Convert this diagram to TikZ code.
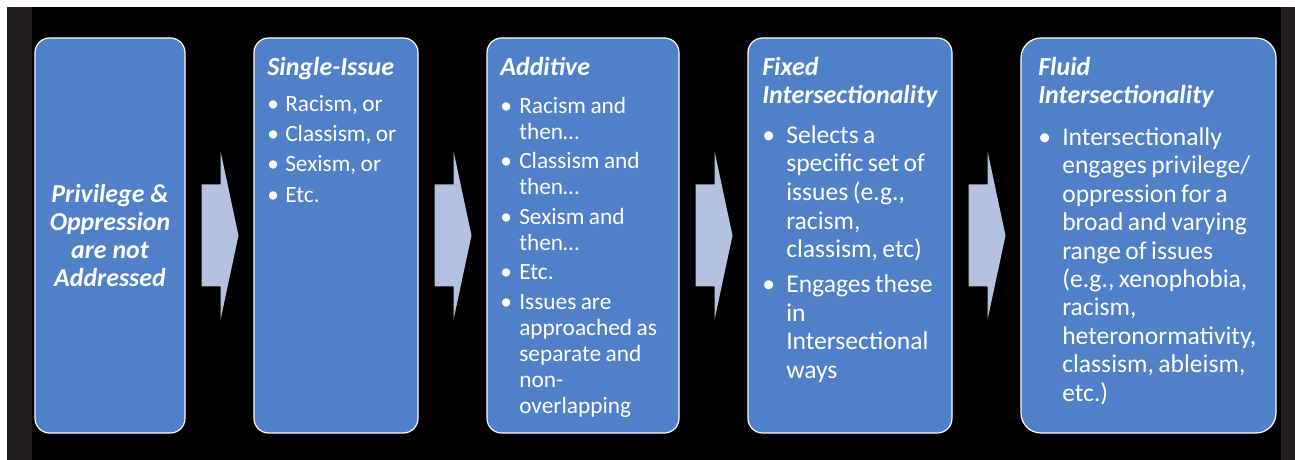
\documentclass[tikz,border=0pt]{standalone}
\usepackage{fontspec}
\setmainfont{Carlito}
\usepackage{xcolor}
\usetikzlibrary{positioning}

\definecolor{stageblue}{HTML}{4F80C8}
\definecolor{flowgrey}{HTML}{B4C1E1}
\definecolor{framegrey}{HTML}{231F20}

% bold italic title line of a stage
\newcommand{\stagehead}[1]{\strut\textbf{\textit{#1}}\par}
% bullet point with hanging indent, #1 = indent
\newcommand{\stageitem}[2][18pt]{\par\hangindent=#1\hangafter=1\noindent
	\makebox[#1][l]{\textbullet}#2\par}

\begin{document}
\begin{tikzpicture}[x=0.75pt, y=0.75pt,
			stage/.style={rectangle, draw=white, line width=0.9pt, fill=stageblue,
					rounded corners=11pt, minimum height=296.25pt, inner sep=0pt, outer sep=0pt},
			stagetext/.style={text=white, text width=#1, align=left, inner sep=0pt},
			flow/.style={fill=flowgrey}
		]
		\useasboundingbox (0,0) rectangle (1295,460);

		% backdrop
		\fill[white] (0,0) rectangle (1295,460);
		\fill[framegrey] (7,0) rectangle (1295,453);
		\fill[black] (32,0) rectangle (1281,453);

		% stages
		\node[stage, minimum width=112.5pt, text=white, align=center,
			font=\fontsize{19.4}{21}\selectfont\bfseries\itshape] (base) at (110,224.5)
			{Privilege \&\\Oppression\\are not\\Addressed};
		\node[stage, minimum width=123pt, right=51.75pt of base] (single) {};
		\node[stage, minimum width=144pt, right=51.75pt of single] (additive) {};
		\node[stage, minimum width=153pt, right=51.75pt of additive] (fixed) {};
		\node[stage, minimum width=191.25pt, rounded corners=15pt, right=51.75pt of fixed] (fluid) {};

		% stage texts
		\node[stagetext=120pt, below right=13pt and 9.75pt of single.north west] (single-text) {%
			\fontsize{19.5}{21}\selectfont
			\stagehead{Single-Issue}
			\vspace{4.4pt}
			\fontsize{17.5}{22.7}\selectfont
			\stageitem[13.5pt]{Racism, or}
			\stageitem[13.5pt]{Classism, or}
			\stageitem[13.5pt]{Sexism, or}
			\stageitem[13.5pt]{Etc.}
		};
		\node[stagetext=142pt, below right=13pt and 9.75pt of additive.north west] (additive-text) {%
			\fontsize{19.5}{21}\selectfont
			\stagehead{Additive}
			\vspace{6.4pt}
			\fontsize{17.5}{19.5}\selectfont\setlength{\parskip}{2.65pt}
			\stageitem[14.25pt]{Racism and\newline then…}
			\stageitem[14.25pt]{Classism and\newline then…}
			\stageitem[14.25pt]{Sexism and\newline then…}
			\stageitem[14.25pt]{Etc.}
			\stageitem[14.25pt]{Issues are\newline approached as\newline separate and\newline non-\newline overlapping}
		};
		\node[stagetext=150pt, below right=13pt and 10.5pt of fixed.north west] (fixed-text) {%
			\fontsize{19.5}{21}\selectfont
			\stagehead{Fixed}
			\stagehead{Intersectionality}
			\vspace{3.9pt}
			\fontsize{19.2}{21.4}\selectfont\setlength{\parskip}{4.9pt}
			\stageitem{Selects a\newline specific set of\newline issues (e.g.,\newline racism,\newline classism, etc)}
			\stageitem{Engages these\newline in\newline Intersectional\newline ways}
		};
		\node[stagetext=185pt, below right=13pt and 12.75pt of fluid.north west] (fluid-text) {%
			\fontsize{19.5}{21}\selectfont
			\stagehead{Fluid}
			\stagehead{Intersectionality}
			\vspace{5.5pt}
			\fontsize{19.2}{21.3}\selectfont\setlength{\parskip}{4.9pt}
			\stageitem{Intersectionally\newline engages privilege/\newline oppression for a\newline broad and varying\newline range of issues\newline (e.g., xenophobia,\newline racism,\newline heteronormativity,\newline classism, ableism,\newline etc.)}
		};

		% block arrows between stages
		\foreach \from/\to in {base/single, single/additive, additive/fixed, fixed/fluid}{
			\path (\from.east) -- coordinate[midway] (mid) (\to.west);
			\fill[flow] (mid) ++(-18,-51) -- ++(19,0) -- ++(0,-33.5) -- ++(18,84.5)
				-- ++(-18,84.5) -- ++(0,-33.5) -- ++(-19,0) -- cycle;
		}
	\end{tikzpicture}
\end{document}
